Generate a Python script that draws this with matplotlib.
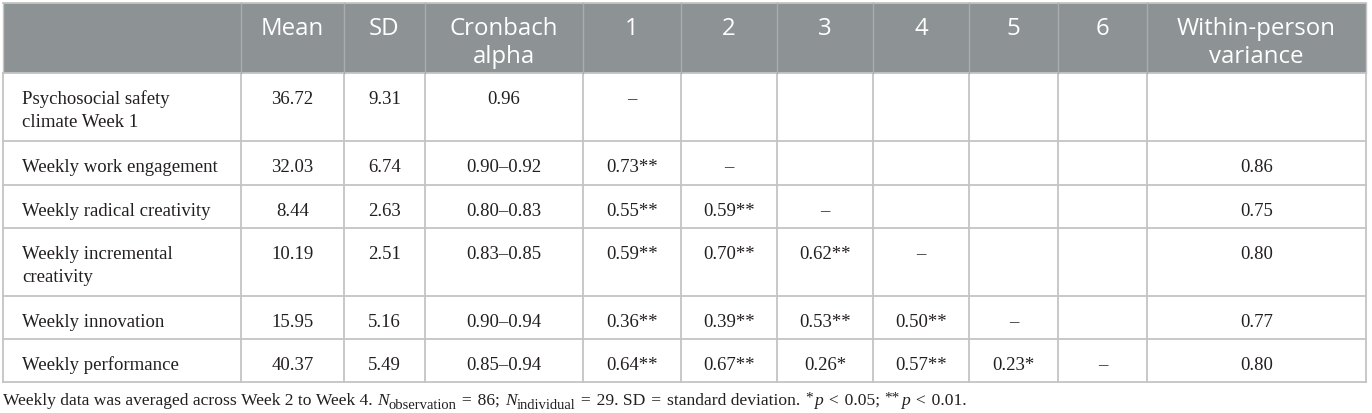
import matplotlib
matplotlib.use("Agg")
import matplotlib.pyplot as plt
from matplotlib.patches import Rectangle

# ---------------- data ----------------
headers = ["", "Mean", "SD", "Cronbach\nalpha", "1", "2", "3", "4", "5", "6",
           "Within-person\nvariance"]
row_labels = ["Psychosocial safety\nclimate Week 1", "Weekly work engagement",
              "Weekly radical creativity", "Weekly incremental\ncreativity",
              "Weekly innovation", "Weekly performance"]
means = ["36.72", "32.03", "8.44", "10.19", "15.95", "40.37"]
sds = ["9.31", "6.74", "2.63", "2.51", "5.16", "5.49"]
alphas = ["0.96", "0.90–0.92", "0.80–0.83", "0.83–0.85", "0.90–0.94", "0.85–0.94"]
correlations = [
    ["–"],
    ["0.73**", "–"],
    ["0.55**", "0.59**", "–"],
    ["0.59**", "0.70**", "0.62**", "–"],
    ["0.36**", "0.39**", "0.53**", "0.50**", "–"],
    ["0.64**", "0.67**", "0.26*", "0.57**", "0.23*", "–"],
]
within_var = ["", "0.86", "0.75", "0.80", "0.77", "0.80"]
# caption pieces: (text, kind) kind: n=normal, i=italic, sub=subscript, sup=superscript
S = "\u2004"
caption_parts = [
    ("Weekly data was averaged across Week 2 to Week 4. ", "n"),
    ("N", "i"), ("observation", "sub"), (S + "=" + S + "86; ", "n"),
    ("N", "i"), ("individual", "sub"),
    (S + "=" + S + "29. SD" + S + "=" + S + "standard deviation. ", "n"),
    ("*", "sup"), ("p", "i"), (S + "<" + S + "0.05; ", "n"),
    ("**", "sup"), ("p", "i"), (S + "<" + S + "0.01.", "n"),
]

# ---------------- layout ----------------
W, H = 1372, 413
col_edges = [3, 241, 344, 425, 583, 681, 777, 873, 969, 1058, 1147, 1366]
row_edges = [3, 73, 141, 185, 228, 296, 339, 382]

header_bg = "#8d9295"
grid_col = "#c4c4c4"
hdr_sep = "#a9adb0"
text_col = "#231f20"
serif = ["Liberation Serif", "DejaVu Serif"]

fig = plt.figure(figsize=(W / 100, H / 100), dpi=100)
ax = fig.add_axes([0, 0, 1, 1])
ax.set_xlim(0, W)
ax.set_ylim(H, 0)
ax.axis("off")

# header background
ax.add_patch(Rectangle((col_edges[0], row_edges[0]), col_edges[-1] - col_edges[0],
                       row_edges[1] - row_edges[0], facecolor=header_bg,
                       edgecolor="none", zorder=1))

# grid lines
for y in row_edges[1:]:
    ax.plot([col_edges[0], col_edges[-1]], [y, y], color=grid_col, lw=1.3, zorder=2)
ax.plot([col_edges[0], col_edges[-1]], [row_edges[0], row_edges[0]],
        color=grid_col, lw=1.3, zorder=2)
for i, x in enumerate(col_edges):
    ax.plot([x, x], [row_edges[1], row_edges[-1]], color=grid_col, lw=1.3, zorder=2)
    ax.plot([x, x], [row_edges[0], row_edges[1]],
            color=(grid_col if i in (0, len(col_edges) - 1) else hdr_sep),
            lw=1.0, zorder=2)

hdr_font = dict(family="Open Sans", fontsize=17.3, color="white")
body_font = dict(family=serif, fontsize=13.5, color=text_col)

# header texts
for j, h in enumerate(headers):
    if not h:
        continue
    cx = (col_edges[j] + col_edges[j + 1]) / 2
    for k, line in enumerate(h.split("\n")):
        ax.text(cx, row_edges[0] + 32 + k * 28, line, ha="center", va="baseline",
                zorder=3, **hdr_font)

# body
for i in range(len(row_labels)):
    top = row_edges[i + 1]
    ybase = top + 31
    for k, line in enumerate(row_labels[i].split("\n")):
        ax.text(col_edges[0] + 19, ybase + k * 23, line, ha="left", va="baseline",
                zorder=3, **body_font)
    cells = [means[i], sds[i], alphas[i]] + correlations[i]
    for j, val in enumerate(cells):
        cx = (col_edges[j + 1] + col_edges[j + 2]) / 2
        ax.text(cx, ybase, val, ha="center", va="baseline", zorder=3, **body_font)
    if within_var[i]:
        cx = (col_edges[-2] + col_edges[-1]) / 2
        ax.text(cx, ybase, within_var[i], ha="center", va="baseline", zorder=3,
                **body_font)

# caption, drawn piece by piece
renderer = fig.canvas.get_renderer()
x = 3.0
cap_base = 405
for txt, kind in caption_parts:
    kw = dict(family=serif, color=text_col, va="baseline", ha="left")
    y = cap_base
    if kind == "n":
        kw["fontsize"] = 12.6
    elif kind == "i":
        kw["fontsize"] = 12.6
        kw["style"] = "italic"
    elif kind == "sub":
        kw["fontsize"] = 10.5
        y = cap_base + 4
    elif kind == "sup":
        kw["fontsize"] = 11
        y = cap_base - 3
    t = ax.text(x, y, txt.replace(" ", "\u00a0"), **kw)
    bb = t.get_window_extent(renderer)
    x += bb.width + (1.5 if kind == "sup" else 0)

fig.savefig("out.png", dpi=100)
